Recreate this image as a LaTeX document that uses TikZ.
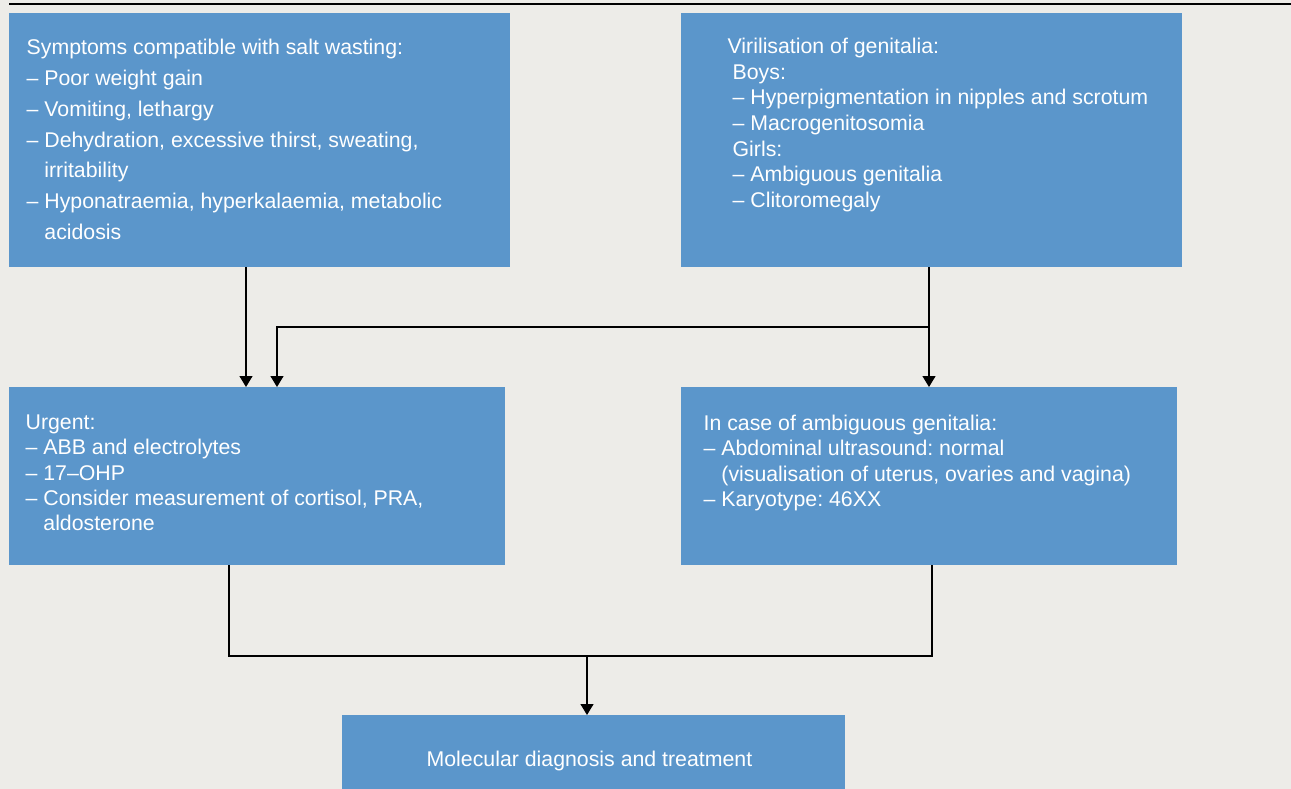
\documentclass[tikz,border=0pt]{standalone}
\usepackage{fontspec}
\setmainfont{Liberation Sans}
\usetikzlibrary{arrows.meta}
\definecolor{panelblue}{RGB}{91,150,203}
\definecolor{paper}{RGB}{237,236,232}
\tikzset{
    panel/.style={fill=panelblue, draw=none, inner sep=0pt, outer sep=0pt, anchor=north west},
    paneltext/.style={text=white, inner sep=0pt, anchor=north west, align=left, font=\fontsize{21.3}{25.2}\selectfont},
    flow/.style={-{Triangle[width=13pt, length=11pt]}},
}
\newcommand{\hang}{\hphantom{-- }}
\newcommand{\firstrow}{\rule{0pt}{18pt}}
\frenchspacing
\begin{document}
\begin{tikzpicture}[x=1pt, y=-1pt, line width=1.3pt]
                \fill [paper] (0, 0) rectangle (1291, 789);
                \clip (0, 0) rectangle (1291, 789);
                \draw [line width=2pt] (9, 4) -- (1291, 4);
                \node [panel, minimum width=501, minimum height=254] (salt) at (9, 13) {};
                \node [panel, minimum width=501, minimum height=254] (viril) at (681, 13) {};
                \node [panel, minimum width=496, minimum height=178] (urgent) at (9, 387) {};
                \node [panel, minimum width=496, minimum height=178] (ambig) at (681, 387) {};
                \node [panel, minimum width=503, minimum height=90] (molec) at (342, 715) {};
                \node [paneltext, font=\fontsize{21.3}{30.8}\selectfont] (salttext) at (26, 36)
                    {\firstrow Symptoms compatible with salt wasting:\\ -- Poor weight gain\\ -- Vomiting, lethargy\\
                    -- Dehydration, excessive thirst, sweating,\\ \hang irritability\\
                    -- Hyponatraemia, hyperkalaemia, metabolic\\ \hang acidosis};
                \node [paneltext, font=\fontsize{21.3}{25.6}\selectfont] (viriltext) at (727, 35)
                    {\firstrow Virilisation of genitalia:\\ \hspace{5pt}Boys:\\ \hspace{5pt}-- Hyperpigmentation in nipples and scrotum\\
                    \hspace{5pt}-- Macrogenitosomia\\ \hspace{5pt}Girls:\\ \hspace{5pt}-- Ambiguous genitalia\\ \hspace{5pt}-- Clitoromegaly};
                \node [paneltext] (urgenttext) at (25, 411)
                    {\firstrow Urgent:\\ -- ABB and electrolytes\\ -- 17--OHP\\
                    -- Consider measurement of cortisol, PRA,\\ \hang aldosterone};
                \node [paneltext] (ambigtext) at (703, 412)
                    {\firstrow In case of ambiguous genitalia:\\ -- Abdominal ultrasound: normal\\
                    \hang (visualisation of uterus, ovaries and vagina)\\ -- Karyotype: 46XX};
                \node [paneltext, anchor=base west] (molectext) at (426, 766) {Molecular diagnosis and treatment};
                \coordinate (branch) at (929, 327);
                \coordinate (join) at (587, 656);
                \draw [flow] (salt.south -| 246, 0) -- (urgent.north -| 246, 0);
                \draw [flow] (viril.south -| branch) -- (ambig.north -| branch);
                \draw [flow] (branch) -| (urgent.north -| 277, 0);
                \draw (urgent.south -| 229, 0) |- (join) -| (ambig.south -| 932, 0);
                \draw [flow] (join) -- (molec.north -| join);
            \end{tikzpicture}
\end{document}
